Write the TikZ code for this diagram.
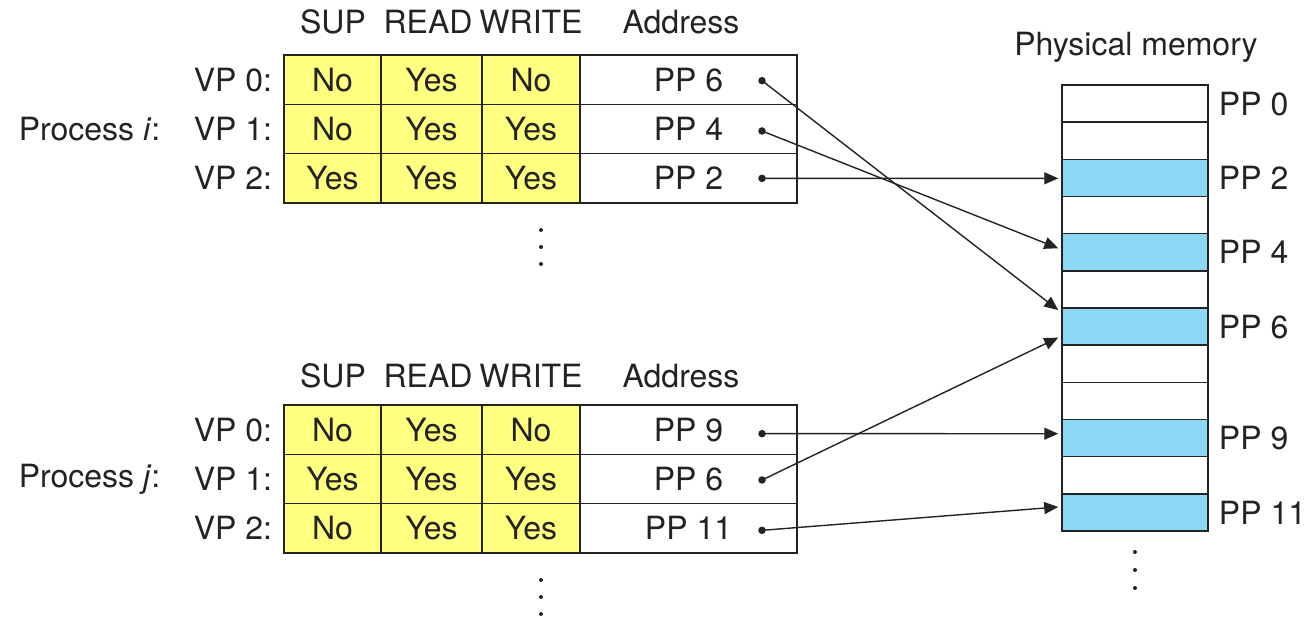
\documentclass[tikz,border=0pt]{standalone}
\usepackage{fontspec}
\setmainfont{TeX Gyre Heros}
\usetikzlibrary{arrows.meta,calc}
\definecolor{permyellow}{RGB}{255,255,128}
\definecolor{memblue}{RGB}{140,214,246}
\definecolor{ink}{RGB}{35,35,35}
\begin{document}
\begin{tikzpicture}[x=1pt,y=-1pt,
  txt/.style={inner sep=0pt,text=ink,font=\fontsize{32}{38}\selectfont},
  cell/.style={txt,draw=ink,line width=1.5pt,minimum height=49.3pt},
  perm/.style={cell,fill=permyellow},
  adr/.style={cell,fill=white,minimum width=217pt},
  memrow/.style={draw=ink,line width=1.5pt,minimum width=146pt,minimum height=37.17pt,inner sep=0pt},
  ptr/.style={draw=ink,line width=1.4pt,-{Triangle[length=14pt,width=12pt]}},
  blob/.style={fill=ink,circle,inner sep=0pt,minimum size=7.5pt},
  vdot/.style={fill=ink,circle,inner sep=0pt,minimum size=4pt}]
\useasboundingbox (0,0) rectangle (1304,626);

% ---------- page table of process i ----------
\node[txt] (hi-sup) at (333,22) {SUP};
\node[txt] (hi-rd)  at (428,22) {READ};
\node[txt] (hi-wr)  at (531,22) {WRITE};
\node[txt] (hi-adr) at (681,22) {Address};
\foreach \r/\s/\rd/\w/\a/\o in {0/No/Yes/No/6/1, 1/No/Yes/Yes/4/2, 2/Yes/Yes/Yes/2/0}{
  \node[perm,minimum width=97pt]  (i-s\r) at (332.5,{55+49.33*(\r+0.5)}) {\s};
  \node[perm,minimum width=101pt] (i-r\r) at (431.5,{55+49.33*(\r+0.5)}) {\rd};
  \node[perm,minimum width=98pt]  (i-w\r) at (531,{55+49.33*(\r+0.5)}) {\w};
  \node[adr] (i-a\r) at (688.5,{55+49.33*(\r+0.5)}) {PP \a};
  \node[txt,anchor=east] (i-vp\r) at ($(i-s\r.west)+(-11,0)$) {VP \r:};
  \node[blob] (i-p\r) at ($(i-a\r.center)+(73.5,\o)$) {};
}
\node[txt,anchor=east] (proc-i) at ($(i-vp1.west)+(-33,0)$) {Process \textit{i}:};
\foreach \k in {0,1,2}
  \node[vdot] (i-more\k) at (541,{230+17*\k}) {};

% ---------- page table of process j ----------
\node[txt] (hj-sup) at (333,376) {SUP};
\node[txt] (hj-rd)  at (428,376) {READ};
\node[txt] (hj-wr)  at (531,376) {WRITE};
\node[txt] (hj-adr) at (681,376) {Address};
\foreach \r/\s/\rd/\w/\a/\o in {0/No/Yes/No/9/4, 1/Yes/Yes/Yes/6/1, 2/No/Yes/Yes/11/2}{
  \node[perm,minimum width=97pt]  (j-s\r) at (332.5,{405+49.33*(\r+0.5)}) {\s};
  \node[perm,minimum width=101pt] (j-r\r) at (431.5,{405+49.33*(\r+0.5)}) {\rd};
  \node[perm,minimum width=98pt]  (j-w\r) at (531,{405+49.33*(\r+0.5)}) {\w};
  \node[adr] (j-a\r) at (688.5,{405+49.33*(\r+0.5)}) {PP \a};
  \node[txt,anchor=east] (j-vp\r) at ($(j-s\r.west)+(-11,0)$) {VP \r:};
  \node[blob] (j-p\r) at ($(j-a\r.center)+(73.5,\o)$) {};
}
\node[txt,anchor=east] (proc-j) at ($(j-vp1.west)+(-33,0)$) {Process \textit{j}:};
\foreach \k in {0,1,2}
  \node[vdot] (j-more\k) at (541,{580+17*\k}) {};

% ---------- physical memory ----------
\node[txt] (pm-title) at (1136,47) {Physical memory};
\foreach \k/\c in {0/white,1/white,2/memblue,3/white,4/memblue,5/white,6/memblue,
                   7/white,8/white,9/memblue,10/white,11/memblue}
  \node[memrow,fill=\c] (m\k) at (1135,{85+37.17*(\k+0.5)}) {};
\foreach \k in {0,2,4,6,9,11}
  \node[txt,anchor=west] (pp\k) at ($(m\k.east)+(10,0)$) {PP \k};
\foreach \k in {0,1,2}
  \node[vdot] (m-more\k) at (1135,{552+18*\k}) {};

% ---------- page table entries pointing into memory ----------
\draw[ptr] (i-p0.center) -- ($(m6.west)+(-3,-16.5)$);
\draw[ptr] (i-p1.center) -- ($(m4.west)+(-3,-4)$);
\draw[ptr] (i-p2.center) -- ($(m2.west)+(-3,0.4)$);
\draw[ptr] (j-p0.center) -- ($(m9.west)+(-3,-4.4)$);
\draw[ptr] (j-p1.center) -- ($(m6.west)+(-3,11)$);
\draw[ptr] (j-p2.center) -- ($(m11.west)+(-3,-5.5)$);
\end{tikzpicture}
\end{document}
